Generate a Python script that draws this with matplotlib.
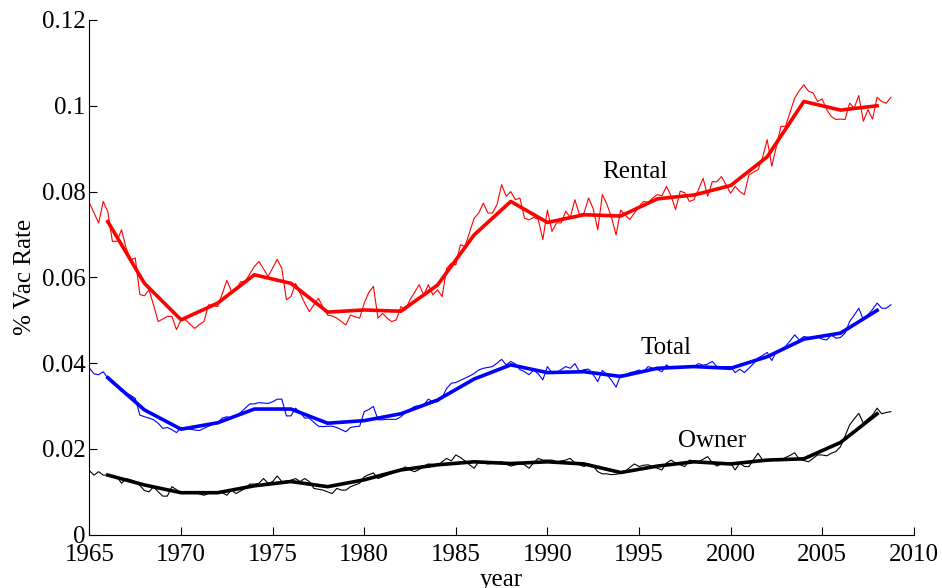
import numpy as np
import matplotlib
matplotlib.use("Agg")
import matplotlib.pyplot as plt

# quarterly vacancy rates, 1965Q1 .. 2008Q4 (one row per year)
rental = [
    0.0773, 0.0750, 0.0727, 0.0777,
    0.0753, 0.0684, 0.0684, 0.0711,
    0.0668, 0.0641, 0.0645, 0.0560,
    0.0557, 0.0571, 0.0535, 0.0497,
    0.0503, 0.0509, 0.0509, 0.0478,
    0.0501, 0.0501, 0.0490, 0.0481,
    0.0490, 0.0497, 0.0536, 0.0534,
    0.0532, 0.0562, 0.0593, 0.0567,
    0.0571, 0.0590, 0.0590, 0.0608,
    0.0625, 0.0637, 0.0620, 0.0602,
    0.0622, 0.0642, 0.0621, 0.0548,
    0.0555, 0.0586, 0.0563, 0.0540,
    0.0520, 0.0536, 0.0551, 0.0530,
    0.0512, 0.0510, 0.0505, 0.0497,
    0.0489, 0.0512, 0.0508, 0.0505,
    0.0540, 0.0565, 0.0579, 0.0505,
    0.0516, 0.0505, 0.0497, 0.0501,
    0.0532, 0.0524, 0.0548, 0.0565,
    0.0583, 0.0559, 0.0583, 0.0559,
    0.0571, 0.0555, 0.0621, 0.0633,
    0.0629, 0.0676, 0.0672, 0.0705,
    0.0738, 0.0750, 0.0773, 0.0750,
    0.0750, 0.0770, 0.0816, 0.0789,
    0.0800, 0.0781, 0.0785, 0.0738,
    0.0734, 0.0740, 0.0735, 0.0688,
    0.0757, 0.0707, 0.0727, 0.0727,
    0.0754, 0.0740, 0.0781, 0.0746,
    0.0750, 0.0785, 0.0760, 0.0711,
    0.0793, 0.0770, 0.0740, 0.0699,
    0.0757, 0.0745, 0.0735, 0.0750,
    0.0765, 0.0777, 0.0775, 0.0785,
    0.0793, 0.0790, 0.0812, 0.0790,
    0.0758, 0.0801, 0.0797, 0.0777,
    0.0781, 0.0805, 0.0831, 0.0789,
    0.0823, 0.0823, 0.0835, 0.0816,
    0.0796, 0.0812, 0.0800, 0.0793,
    0.0839, 0.0845, 0.0851, 0.0880,
    0.0921, 0.0859, 0.0905, 0.0952,
    0.0952, 0.0985, 0.1018, 0.1035,
    0.1049, 0.1034, 0.1030, 0.1010,
    0.1016, 0.0991, 0.0975, 0.0968,
    0.0969, 0.0968, 0.1006, 0.0995,
    0.1024, 0.0964, 0.0991, 0.0969,
    0.1020, 0.1010, 0.1006, 0.1020,
]

total = [
    0.0388, 0.0375, 0.0373, 0.0380,
    0.0365, 0.0353, 0.0345, 0.0334,
    0.0330, 0.0325, 0.0318, 0.0279,
    0.0275, 0.0272, 0.0268, 0.0260,
    0.0248, 0.0250, 0.0245, 0.0238,
    0.0250, 0.0248, 0.0246, 0.0244,
    0.0243, 0.0248, 0.0253, 0.0258,
    0.0261, 0.0272, 0.0275, 0.0272,
    0.0278, 0.0285, 0.0295, 0.0305,
    0.0305, 0.0308, 0.0307, 0.0306,
    0.0310, 0.0316, 0.0316, 0.0277,
    0.0277, 0.0295, 0.0285, 0.0272,
    0.0272, 0.0262, 0.0253, 0.0252,
    0.0253, 0.0253, 0.0250, 0.0245,
    0.0240, 0.0250, 0.0252, 0.0253,
    0.0287, 0.0292, 0.0299, 0.0268,
    0.0268, 0.0269, 0.0269, 0.0269,
    0.0275, 0.0285, 0.0292, 0.0299,
    0.0301, 0.0303, 0.0316, 0.0310,
    0.0310, 0.0320, 0.0341, 0.0353,
    0.0355, 0.0360, 0.0365, 0.0370,
    0.0376, 0.0384, 0.0388, 0.0390,
    0.0392, 0.0400, 0.0409, 0.0396,
    0.0404, 0.0398, 0.0385, 0.0380,
    0.0373, 0.0384, 0.0375, 0.0361,
    0.0392, 0.0377, 0.0378, 0.0385,
    0.0392, 0.0388, 0.0399, 0.0380,
    0.0385, 0.0386, 0.0373, 0.0357,
    0.0383, 0.0373, 0.0360, 0.0344,
    0.0373, 0.0370, 0.0378, 0.0380,
    0.0384, 0.0380, 0.0392, 0.0388,
    0.0385, 0.0380, 0.0396, 0.0388,
    0.0390, 0.0392, 0.0392, 0.0392,
    0.0392, 0.0399, 0.0395, 0.0398,
    0.0404, 0.0392, 0.0392, 0.0392,
    0.0392, 0.0378, 0.0386, 0.0378,
    0.0388, 0.0399, 0.0412, 0.0418,
    0.0425, 0.0406, 0.0427, 0.0432,
    0.0439, 0.0452, 0.0466, 0.0454,
    0.0462, 0.0460, 0.0458, 0.0461,
    0.0456, 0.0454, 0.0466, 0.0458,
    0.0460, 0.0470, 0.0497, 0.0512,
    0.0528, 0.0501, 0.0513, 0.0525,
    0.0540, 0.0528, 0.0528, 0.0536,
]

owner = [
    0.0149, 0.0139, 0.0147, 0.0139,
    0.0139, 0.0137, 0.0135, 0.0120,
    0.0131, 0.0128, 0.0124, 0.0115,
    0.0103, 0.0100, 0.0112, 0.0100,
    0.0090, 0.0090, 0.0112, 0.0105,
    0.0098, 0.0098, 0.0098, 0.0098,
    0.0095, 0.0092, 0.0096, 0.0100,
    0.0100, 0.0098, 0.0092, 0.0104,
    0.0096, 0.0102, 0.0108, 0.0118,
    0.0118, 0.0120, 0.0131, 0.0120,
    0.0124, 0.0137, 0.0124, 0.0125,
    0.0127, 0.0131, 0.0124, 0.0131,
    0.0124, 0.0108, 0.0106, 0.0104,
    0.0100, 0.0096, 0.0108, 0.0104,
    0.0104, 0.0112, 0.0116, 0.0120,
    0.0135, 0.0140, 0.0144, 0.0131,
    0.0135, 0.0139, 0.0143, 0.0147,
    0.0153, 0.0158, 0.0151, 0.0147,
    0.0152, 0.0160, 0.0165, 0.0164,
    0.0162, 0.0170, 0.0178, 0.0172,
    0.0186, 0.0180, 0.0172, 0.0163,
    0.0155, 0.0170, 0.0168, 0.0165,
    0.0167, 0.0168, 0.0170, 0.0165,
    0.0160, 0.0163, 0.0165, 0.0163,
    0.0155, 0.0168, 0.0178, 0.0174,
    0.0174, 0.0174, 0.0170, 0.0172,
    0.0174, 0.0178, 0.0167, 0.0163,
    0.0159, 0.0165, 0.0160, 0.0147,
    0.0142, 0.0142, 0.0140, 0.0141,
    0.0143, 0.0148, 0.0157, 0.0165,
    0.0159, 0.0162, 0.0163, 0.0159,
    0.0155, 0.0151, 0.0167, 0.0174,
    0.0167, 0.0163, 0.0159, 0.0174,
    0.0172, 0.0170, 0.0176, 0.0182,
    0.0168, 0.0160, 0.0165, 0.0166,
    0.0167, 0.0151, 0.0167, 0.0159,
    0.0159, 0.0175, 0.0190, 0.0174,
    0.0174, 0.0173, 0.0176, 0.0174,
    0.0180, 0.0185, 0.0191, 0.0176,
    0.0173, 0.0170, 0.0178, 0.0186,
    0.0186, 0.0184, 0.0190, 0.0194,
    0.0205, 0.0230, 0.0256, 0.0270,
    0.0283, 0.0260, 0.0270, 0.0279,
    0.0295, 0.0282, 0.0285, 0.0287,
]

# smoothed trend, every other year 1966..2008
trend_years = list(range(1966, 2009, 2))
rental_trend = [0.0730, 0.0586, 0.0501, 0.0540, 0.0606, 0.0586, 0.0519, 0.0524,
                0.0521, 0.0582, 0.0699, 0.0777, 0.0728, 0.0746, 0.0743, 0.0783,
                0.0792, 0.0814, 0.0881, 0.1010, 0.0990, 0.1000]
total_trend = [0.0366, 0.0291, 0.0246, 0.0261, 0.0293, 0.0293, 0.0260, 0.0266,
               0.0282, 0.0314, 0.0363, 0.0396, 0.0378, 0.0380, 0.0369, 0.0388,
               0.0392, 0.0388, 0.0415, 0.0456, 0.0470, 0.0523]
owner_trend = [0.0139, 0.0116, 0.0098, 0.0098, 0.0114, 0.0124, 0.0112, 0.0128,
               0.0151, 0.0163, 0.0170, 0.0166, 0.0170, 0.0165, 0.0145, 0.0160,
               0.0170, 0.0165, 0.0174, 0.0177, 0.0215, 0.0282]

start_year = 1965
quarters = start_year + np.arange(len(rental)) / 4.0

plt.rcParams['font.family'] = ['Liberation Serif', 'DejaVu Serif']
plt.rcParams['font.size'] = 18

fig = plt.figure(figsize=(9.42, 5.88), dpi=100)
ax = fig.add_axes([0.095, 0.0906, 0.875, 0.8754])

for q, trend, col in [(rental, rental_trend, 'red'),
                      (total, total_trend, 'blue'),
                      (owner, owner_trend, 'black')]:
    ax.plot(quarters, q, color=col, lw=0.8)
    ax.plot(trend_years, trend, color=col, lw=2.6)

ax.text(1994.8, 0.0846, 'Rental', ha='center', va='center', fontsize=18)
ax.text(1996.45, 0.0436, 'Total', ha='center', va='center', fontsize=18)
ax.text(1999.0, 0.0219, 'Owner', ha='center', va='center', fontsize=18)

ax.set_xlim(1965, 2010)
ax.set_ylim(0, 0.12)
ax.set_xticks(range(1965, 2011, 5))
ax.set_yticks([0, 0.02, 0.04, 0.06, 0.08, 0.1, 0.12])
ax.set_yticklabels(['0', '0.02', '0.04', '0.06', '0.08', '0.1', '0.12'])
ax.tick_params(direction='in', length=6, width=0.8, pad=3)
ax.tick_params(axis='x', pad=7)
ax.spines['top'].set_visible(False)
ax.spines['right'].set_visible(False)
ax.set_xlabel('year', labelpad=2)
ax.set_ylabel('% Vac Rate', labelpad=4)

plt.savefig('out.png', dpi=100)
plt.close()
